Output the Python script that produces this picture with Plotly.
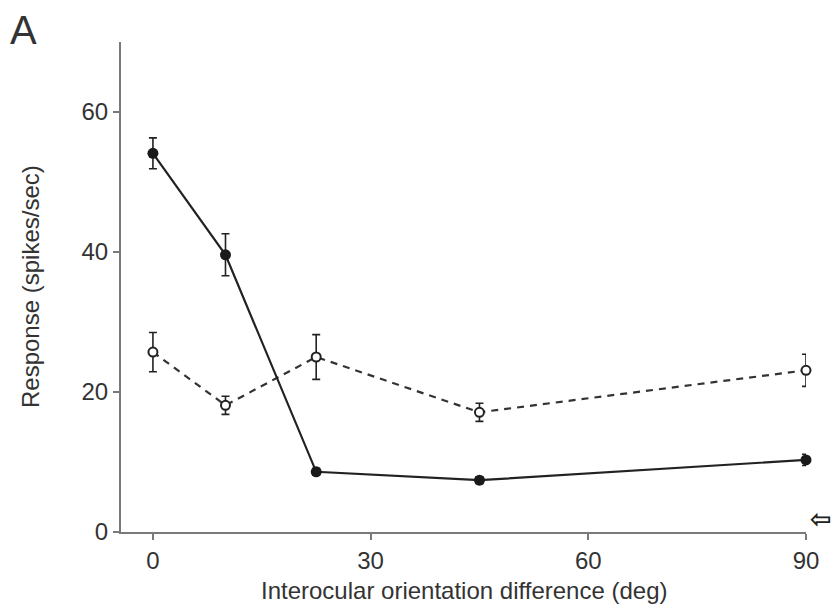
import plotly.graph_objects as go

orientation_diff = [0, 10, 22.5, 45, 90]
binoc_resp = [54.1, 39.6, 8.6, 7.4, 10.3]
binoc_err = [2.2, 3.0, 0.5, 0.5, 0.8]
mono_resp = [25.7, 18.1, 25.0, 17.1, 23.1]
mono_err = [2.8, 1.3, 3.2, 1.3, 2.3]
x_ticks = [0, 30, 60, 90]
y_ticks = [0, 20, 40, 60]

FONT = "Liberation Sans, Arial"

fig = go.Figure()
fig.add_trace(go.Scatter(
    x=orientation_diff, y=mono_resp, mode="lines+markers",
    line=dict(color="#333", width=2.2, dash="7px,6px"),
    marker=dict(symbol="circle", size=9, color="white", line=dict(color="#222", width=2)),
    error_y=dict(type="data", array=mono_err, color="#222", thickness=1.6, width=4),
    cliponaxis=False, showlegend=False))
fig.add_trace(go.Scatter(
    x=orientation_diff, y=binoc_resp, mode="lines+markers",
    line=dict(color="#222", width=2.2),
    marker=dict(symbol="circle", size=11, color="#1a1a1a"),
    error_y=dict(type="data", array=binoc_err, color="#222", thickness=1.6, width=4),
    cliponaxis=False, showlegend=False))

axis_common = dict(showline=True, linecolor="#7a7a7a", linewidth=2, ticks="outside",
                   ticklen=6, tickwidth=2, tickcolor="#7a7a7a", showgrid=False,
                   zeroline=False, tickfont=dict(family=FONT, size=24, color="#333"))

fig.update_xaxes(range=[-4.4, 90], tickvals=x_ticks, **axis_common)
fig.update_yaxes(range=[0, 70], tickvals=y_ticks, **axis_common)

fig.add_annotation(x=0.5, y=0, xref="paper", yref="paper", yshift=-58,
                   text="Interocular orientation difference (deg)", showarrow=False,
                   xanchor="center", yanchor="middle",
                   font=dict(family=FONT, size=24, color="#333"))
fig.add_annotation(x=0, y=0.5, xref="paper", yref="paper", xshift=-91,
                   text="Response (spikes/sec)", showarrow=False, textangle=-90,
                   xanchor="center", yanchor="middle",
                   font=dict(family=FONT, size=24, color="#333"))
fig.add_annotation(x=0, y=1, xref="paper", yref="paper", xshift=-113, yshift=36,
                   text="A", showarrow=False, xanchor="left", yanchor="top",
                   font=dict(family=FONT, size=40, color="#333"))
fig.add_annotation(x=90, y=1.9, xref="x", yref="y", xshift=2, text="<b>⇦</b>", showarrow=False,
                   xanchor="left", yanchor="middle",
                   font=dict(family="DejaVu Sans", size=26, color="#222"))

fig.update_layout(width=832, height=614, margin=dict(l=121, r=26, t=42, b=82),
                  plot_bgcolor="white", paper_bgcolor="white")
fig.write_html("out.html")
